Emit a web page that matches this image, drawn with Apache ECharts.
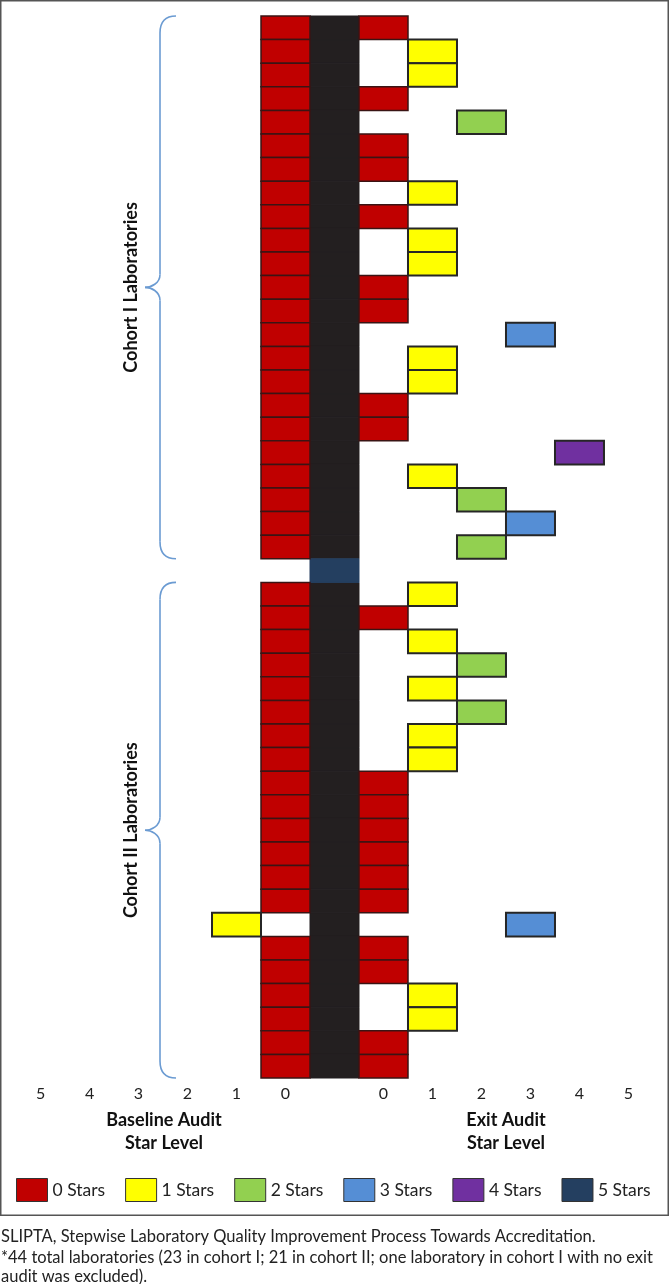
<!DOCTYPE html>
<html><head><meta charset="utf-8">
<script src="https://cdn.jsdelivr.net/npm/echarts@6/dist/echarts.min.js"></script>
<style>html,body{margin:0;padding:0;background:#fff}#c{width:669px;height:1284px}</style>
</head><body><div id="c"></div>
<script>
// ---- data ----
const starLevels = ['0 Stars', '1 Stars', '2 Stars', '3 Stars', '4 Stars', '5 Stars'];
const starColors = ['#C00000', '#FFFF00', '#92D050', '#558ED5', '#7030A0', '#243F60'];
const cohort1Baseline = [0,0,0,0,0,0,0,0,0,0,0,0,0,0,0,0,0,0,0,0,0,0,0];
const cohort1Exit     = [0,1,1,0,2,0,0,1,0,1,1,0,0,3,1,1,0,0,4,1,2,3,2];
const cohort2Baseline = [0,0,0,0,0,0,0,0,0,0,0,0,0,0,1,0,0,0,0,0,0];
const cohort2Exit     = [1,0,1,2,1,2,1,1,0,0,0,0,0,0,3,0,0,1,1,0,0];
const baselineTicks = ['5', '4', '3', '2', '1', '0'];
const exitTicks = ['0', '1', '2', '3', '4', '5'];
const cohortLabels = ['Cohort I Laboratories', 'Cohort II Laboratories'];
const footnotes = [
  'SLIPTA, Stepwise Laboratory Quality Improvement Process Towards Accreditation.',
  '*44 total laboratories (23 in cohort I; 21 in cohort II; one laboratory in cohort I with no exit',
  'audit was excluded).'
];

// ---- rows: cohort I, separator row, cohort II ----
const rows = [];
cohort1Exit.forEach((v, i) => rows.push('I-' + (i + 1)));
rows.push('sep');
cohort2Exit.forEach((v, i) => rows.push('II-' + (i + 1)));
const sepRow = cohort1Exit.length;

// position on axis: baseline b -> -(b+1), exit e -> e+1, divider at 0
const cells = starLevels.map(() => []);
const divider = [];
function addCohort(base, exit, offset) {
  base.forEach((b, i) => {
    const r = offset + i;
    cells[b].push([-(b + 1), r]);
    cells[exit[i]].push([exit[i] + 1, r]);
    divider.push({ value: [0, r], itemStyle: { color: '#231F20' } });
  });
}
addCohort(cohort1Baseline, cohort1Exit, 0);
addCohort(cohort2Baseline, cohort2Exit, sepRow + 1);
divider.push({ value: [0, sepRow], itemStyle: { color: '#243F60' } });

function rectRenderer(stroke, lw) {
  return function (params, api) {
    const c = api.coord([api.value(0), api.value(1)]);
    const s = api.size([1, 1]);
    const fill = api.visual('color');
    return {
      type: 'rect',
      shape: { x: c[0] - s[0] / 2, y: c[1] - s[1] / 2, width: s[0], height: s[1] },
      style: { fill: fill, stroke: stroke || fill, lineWidth: lw }
    };
  };
}

const FONT = 'Lato';
const series = starLevels.map((name, k) => ({
  name: name,
  type: 'custom',
  coordinateSystem: 'cartesian2d',
  renderItem: rectRenderer(k === 0 ? '#3a1414' : '#262626', k === 0 ? 1.5 : 2),
  itemStyle: { color: starColors[k] },
  encode: { x: 0, y: 1 },
  data: cells[k],
  z: 3,
  silent: true
}));
series.unshift({
  name: 'divider',
  type: 'custom',
  coordinateSystem: 'cartesian2d',
  renderItem: rectRenderer(null, 1),
  encode: { x: 0, y: 1 },
  data: divider,
  z: 2,
  silent: true
});

const chart = echarts.init(document.getElementById('c'), null, { renderer: 'canvas' });
chart.setOption({
  animation: false,
  backgroundColor: '#fff',
  grid: { left: 0, right: 0, top: 16, height: 1062 },
  xAxis: {
    type: 'value', min: -6.827, max: 6.827,
    splitLine: { show: false }, axisLine: { show: false }, axisTick: { show: false },
    axisLabel: {
      customValues: [-6, -5, -4, -3, -2, -1, 1, 2, 3, 4, 5, 6],
      formatter: v => (v < 0 ? baselineTicks[v + 6] : exitTicks[v - 1]),
      margin: 8, fontSize: 16, color: '#222', fontFamily: FONT
    }
  },
  yAxis: { type: 'category', data: rows, inverse: true, show: false },
  legend: {
    data: starLevels,
    left: 16, top: 1178, padding: 0,
    itemWidth: 31, itemHeight: 23, itemGap: 20,
    icon: 'rect',
    selectedMode: false,
    itemStyle: { borderColor: '#333', borderWidth: 1 },
    textStyle: { fontSize: 17.5, color: '#222', fontFamily: FONT }
  },
  series: series
});

// ---- annotations positioned from the axis scales ----
const c0 = chart.convertToPixel({ yAxisIndex: 0 }, 0);
const c1 = chart.convertToPixel({ yAxisIndex: 0 }, 1);
const band = c1 - c0;
const rowTop = r => chart.convertToPixel({ yAxisIndex: 0 }, r) - band / 2;
const rowBottom = r => chart.convertToPixel({ yAxisIndex: 0 }, r) + band / 2;
const xPix = v => chart.convertToPixel({ xAxisIndex: 0 }, v);

const braceStyle = { fill: null, stroke: '#6B9BD2', lineWidth: 1.6 };
function brace(xe, xs, xt, y0, y1) {
  const ym = (y0 + y1) / 2;
  const bz = (x1, y1_, cpx1, cpy1, cpx2, cpy2, x2, y2) => ({
    type: 'bezierCurve', shape: { x1: x1, y1: y1_, cpx1: cpx1, cpy1: cpy1, cpx2: cpx2, cpy2: cpy2, x2: x2, y2: y2 },
    style: braceStyle, silent: true
  });
  const ln = (x1, y1_, x2, y2) => ({ type: 'line', shape: { x1: x1, y1: y1_, x2: x2, y2: y2 }, style: braceStyle, silent: true });
  return [
    bz(xe, y0, xs + 5, y0, xs, y0 + 6, xs, y0 + 17),
    ln(xs, y0 + 17, xs, ym - 13),
    bz(xs, ym - 13, xs, ym - 4, xt + 6, ym, xt, ym),
    bz(xt, ym, xt + 6, ym, xs, ym + 4, xs, ym + 13),
    ln(xs, ym + 13, xs, y1 - 17),
    bz(xs, y1 - 17, xs, y1 - 6, xs + 5, y1, xe, y1)
  ];
}

const groups = [
  { top: rowTop(0), bottom: rowBottom(sepRow - 1), label: cohortLabels[0] },
  { top: rowTop(sepRow + 1), bottom: rowBottom(rows.length - 1), label: cohortLabels[1] }
];
let graphic = [];
graphic.push({
  type: 'rect', shape: { x: 0.75, y: 0.75, width: 667.5, height: 1214.5 },
  style: { fill: null, stroke: '#555', lineWidth: 1.5 }, z: 10, silent: true
});
groups.forEach(g => {
  graphic = graphic.concat(brace(176, 160, 145, g.top, g.bottom));
  graphic.push({
    type: 'text', x: 131, y: (g.top + g.bottom) / 2, rotation: Math.PI / 2,
    style: { text: g.label, font: 'bold 18px ' + FONT, fill: '#111', align: 'center', verticalAlign: 'middle' },
    silent: true
  });
});
const axisLabelY = 1131.5;
graphic.push({
  type: 'text', x: (xPix(-6) + xPix(-1)) / 2 + 1, y: axisLabelY,
  style: { text: 'Baseline Audit\nStar Level', font: 'bold 18px ' + FONT, lineHeight: 23, fill: '#111', align: 'center', verticalAlign: 'middle' },
  silent: true
});
graphic.push({
  type: 'text', x: (xPix(1) + xPix(6)) / 2, y: axisLabelY,
  style: { text: 'Exit Audit\nStar Level', font: 'bold 18px ' + FONT, lineHeight: 23, fill: '#111', align: 'center', verticalAlign: 'middle' },
  silent: true
});
footnotes.forEach((t, i) => {
  graphic.push({
    type: 'text', x: 1, y: [1237, 1258, 1277][i],
    style: { text: t, font: '16.5px ' + FONT, fill: '#222', align: 'left', verticalAlign: 'middle' },
    silent: true
  });
});
chart.setOption({ graphic: graphic });
</script>
</body></html>
